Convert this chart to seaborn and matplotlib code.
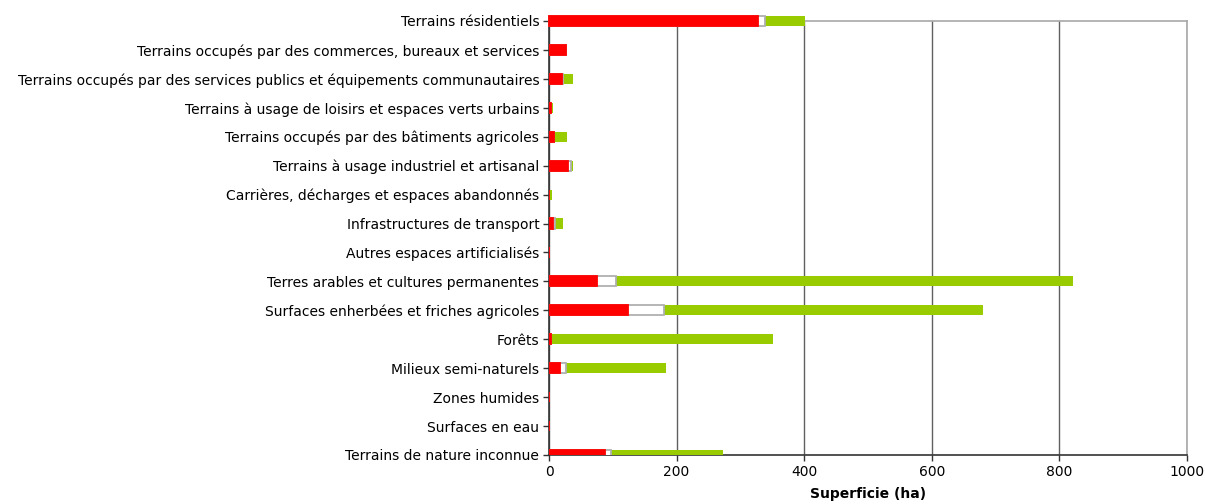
import pandas as pd
import seaborn as sns
import matplotlib.pyplot as plt

categories = [
    "Terrains résidentiels",
    "Terrains occupés par des commerces, bureaux et services",
    "Terrains occupés par des services publics et équipements communautaires",
    "Terrains à usage de loisirs et espaces verts urbains",
    "Terrains occupés par des bâtiments agricoles",
    "Terrains à usage industriel et artisanal",
    "Carrières, décharges et espaces abandonnés",
    "Infrastructures de transport",
    "Autres espaces artificialisés",
    "Terres arables et cultures permanentes",
    "Surfaces enherbées et friches agricoles",
    "Forêts",
    "Milieux semi-naturels",
    "Zones humides",
    "Surfaces en eau",
    "Terrains de nature inconnue",
]
red = [328, 27, 21, 3, 8, 30, 0, 6, 0, 76, 124, 3, 17, 0, 0, 88]
white = [11, 0, 1.5, 0, 0, 5, 0, 4, 0, 29, 56, 0, 10, 0, 0, 9]
green = [62, 0, 15, 3.5, 20, 2.5, 4.5, 12, 0, 717, 501, 348, 157, 0, 0, 175]

RED = "#FF0000"
GREEN = "#99CC00"
EDGE = "#B0B0B0"


def main():
    df = pd.DataFrame({"cat": categories, "red": red, "white": white, "green": green})
    df["rw"] = df["red"] + df["white"]
    df["total"] = df["rw"] + df["green"]

    sns.set_style("white")
    plt.rcParams["font.family"] = ["DejaVu Sans"]

    fig = plt.figure(figsize=(12.05, 5.04), dpi=100)
    ax = fig.add_axes([549 / 1205, 1 - 455 / 504, 638 / 1205, 434 / 504])

    # overlay cumulative sums: total (green), red+white (white), red
    sns.barplot(data=df, x="total", y="cat", orient="h", color=GREEN,
                width=0.35, linewidth=0, saturation=1, ax=ax, zorder=3)
    sns.barplot(data=df, x="rw", y="cat", orient="h", color="white",
                width=0.35, edgecolor=EDGE, linewidth=1.3, saturation=1,
                ax=ax, zorder=3)
    sns.barplot(data=df, x="red", y="cat", orient="h", color=RED,
                width=0.35, edgecolor=RED, linewidth=1.3, saturation=1,
                ax=ax, zorder=3)

    ax.set_ylim(15, 0)
    ax.set_xlim(0, 1000)
    for p in ax.patches:
        if p.get_y() < 0:
            p.set_clip_on(False)

    ax.set_xticks([0, 200, 400, 600, 800, 1000])
    ax.xaxis.grid(True, color="#606060", linewidth=1, zorder=1)
    ax.yaxis.grid(False)
    ax.set_axisbelow(True)

    for side in ["left", "bottom"]:
        ax.spines[side].set_color("#333333")
        ax.spines[side].set_linewidth(1.2)
    for side in ["top", "right"]:
        ax.spines[side].set_color("#A8A8A8")
        ax.spines[side].set_linewidth(1.2)

    ax.tick_params(axis="both", which="major", direction="out", length=4,
                   width=1, color="#333333", labelsize=10, labelcolor="black",
                   pad=3, left=True, bottom=True)
    ax.set_ylabel("")
    ax.set_xlabel("Superficie (ha)", fontsize=10, fontweight="bold",
                  color="black", labelpad=6)

    fig.savefig("out.png", dpi=100)
    plt.close(fig)


if __name__ == "__main__":
    main()
